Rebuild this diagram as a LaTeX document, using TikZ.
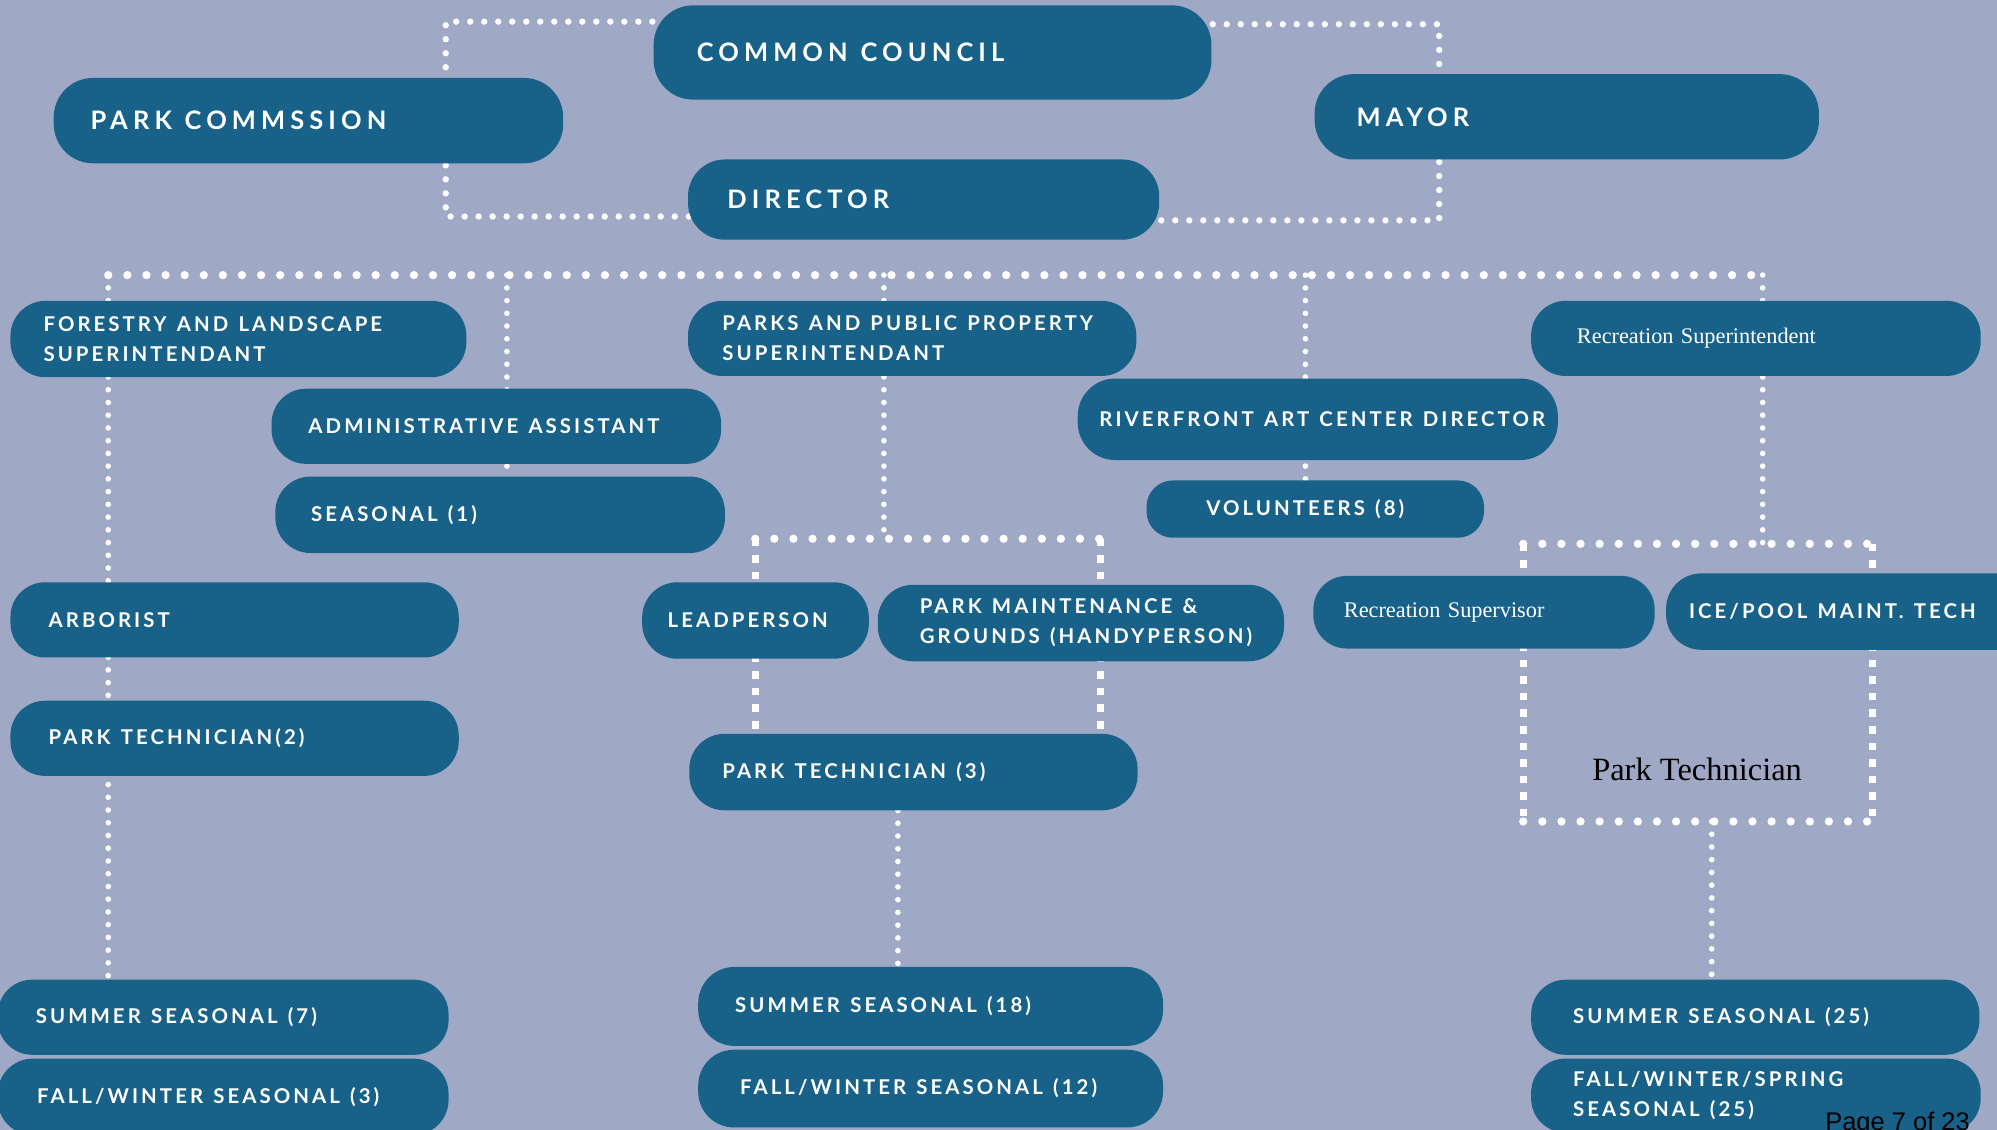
\documentclass[tikz,border=0pt]{standalone}
\usepackage{fontspec}
\newfontfamily\capbig{Lato}[LetterSpace=20]
\newfontfamily\capsm{Lato}[LetterSpace=15]
\newfontfamily\serf{Liberation Serif}
\newfontfamily\arialf{Liberation Sans}
\definecolor{bgc}{RGB}{159,169,198}
\definecolor{pillc}{RGB}{24,97,136}
\newcommand\fbig{\capbig\bfseries\fontsize{20}{24}\selectfont}
\newcommand\fsm{\capsm\bfseries\fontsize{16}{23.5}\selectfont}
\newcommand\fser{\serf\fontsize{17.5}{21}\selectfont}
\newcommand\mb[1]{\mbox{\spaceskip=0.5em\relax#1}}
\pgfdeclarelayer{backdrop}
\pgfdeclarelayer{links}
\pgfsetlayers{backdrop,links,main}
\tikzset{
  pill/.style={fill=pillc, text=white, draw=none, align=left, inner ysep=0pt, rectangle},
  dotS/.style={white, line width=4.4pt, line cap=round, dash pattern=on 0pt off 10pt},
  dotM/.style={white, line width=5pt, line cap=round, dash pattern=on 0pt off 11pt},
  dotL/.style={white, line width=6.5pt, line cap=round, dash pattern=on 0pt off 15pt},
  dashR/.style={white, line width=5.5pt, line cap=butt, dash pattern=on 6pt off 7pt},
}
% name, x1, y1, x2, y2, pad, font, text
\newcommand\pill[8]{%
  \pgfmathsetmacro\pw{#4-#2}%
  \pgfmathsetmacro\ph{#5-#3}%
  \pgfmathsetmacro\tw{#4-#2-2*#6}%
  \pgfmathsetmacro\rc{min(0.46*\ph,31)}%
  \node[pill, font=#7, minimum width=\pw pt, minimum height=\ph pt, text width=\tw pt,
        inner xsep=#6pt, rounded corners=\rc pt, anchor=north west] (#1) at (#2,#3) {#8};}
\begin{document}
\begin{tikzpicture}[x=1pt,y=-1pt]
\begin{pgfonlayer}{backdrop}
\fill[bgc] (0,0) rectangle (1568,887);
\end{pgfonlayer}
\useasboundingbox (0,0) rectangle (1568,887);

\pill{cc}{513}{4}{951}{78}{34}{\fbig}{\mb{COMMON COUNCIL}}
\pill{pc}{42}{61}{442}{128}{29}{\fbig}{\mb{PARK COMMSSION}}
\pill{mayor}{1032}{58}{1428}{125}{33}{\fbig}{\mb{MAYOR}}
\pill{dir}{540}{125}{910}{188}{31}{\fbig}{\mb{DIRECTOR}}

\pill{fls}{8}{236}{366}{296}{26}{\fsm}{\mb{FORESTRY AND LANDSCAPE}\\\mb{SUPERINTENDANT}}
\pill{pps}{540}{236}{892}{295}{27}{\fsm}{\mb{PARKS AND PUBLIC PROPERTY}\\\mb{SUPERINTENDANT}}
\pill{rsi}{1202}{236}{1555}{295}{36}{\fser}{\mbox{Recreation Superintendent}}
\pill{adm}{213}{305}{566}{364}{29}{\fsm}{\mb{ADMINISTRATIVE ASSISTANT}}
\pill{rac}{846}{297}{1223}{361}{17}{\fsm}{\mb{RIVERFRONT ART CENTER DIRECTOR}}
\pill{s1}{216}{374}{569}{434}{28}{\fsm}{\mb{SEASONAL (1)}}
\pill{vol}{900}{377}{1165}{422}{47}{\fsm}{\mb{VOLUNTEERS (8)}}

\pill{arb}{8}{457}{360}{516}{30}{\fsm}{\mb{ARBORIST}}
\pill{lead}{504}{457}{682}{517}{20}{\fsm}{\mb{LEADPERSON}}
\pill{pmg}{689}{459}{1008}{519}{33}{\fsm}{\mb{PARK MAINTENANCE \&}\\\mb{GROUNDS (HANDYPERSON)}}
\pill{rsv}{1031}{452}{1299}{509}{24}{\fser}{\mbox{Recreation Supervisor}}
\pill{ice}{1308}{450}{1598}{510}{18}{\fsm}{\mb{ICE/POOL MAINT. TECH}}

\pill{pt2}{8}{550}{360}{609}{30}{\fsm}{\mb{PARK TECHNICIAN(2)}}
\pill{pt3}{541}{576}{893}{636}{26}{\fsm}{\mb{PARK TECHNICIAN (3)}}
\node[font=\serf\fontsize{25.5}{28}\selectfont, text=black, anchor=base west, inner sep=0pt] (ptx) at (1250,613) {Park Technician};

\pill{ss7}{-2}{769}{352}{828}{30}{\fsm}{\mb{SUMMER SEASONAL (7)}}
\pill{fw3}{-2}{831}{352}{891}{31}{\fsm}{\mb{FALL/WINTER SEASONAL (3)}}
\pill{ss18}{548}{759}{913}{821}{29}{\fsm}{\mb{SUMMER SEASONAL (18)}}
\pill{fw12}{548}{824}{913}{885}{33}{\fsm}{\mb{FALL/WINTER SEASONAL (12)}}
\pill{ss25}{1202}{769}{1554}{828}{33}{\fsm}{\mb{SUMMER SEASONAL (25)}}
\pill{fws25}{1202}{831}{1555}{889}{33}{\fsm}{\mb{FALL/WINTER/SPRING}\\\mb{SEASONAL (25)}}

\node[font=\arialf\fontsize{20}{24}\selectfont, text=black, anchor=base west, inner sep=0pt] (pg) at (1433,888) {Page 7 of 23};

\begin{pgfonlayer}{links}
\coordinate (tl) at (350,17);  \coordinate (bl) at (350,170);
\coordinate (tr) at (1130,19); \coordinate (br) at (1130,173);
\draw[dotM] (cc.center |- tl) -- (tl) -- (bl) -- (dir.center |- bl);
\draw[dotM] (cc.center |- tr) -- (tr) -- (br) -- (dir.center |- br);

\coordinate (b1) at (85,216);  \coordinate (b2) at (398,216);
\coordinate (b3) at (694,216); \coordinate (b4) at (1025,216);
\coordinate (b5) at (1384,216);
\draw[dotL] (b1) -- (b5);
\draw[dotS] (b1) -- (b1 |- ss7.north);
\draw[dotS] (b2) -- (b2 |- s1.north);
\draw[dotS] (b4) -- (b4 |- vol.north);

\coordinate (pkL) at (593,423); \coordinate (pkM) at (694,423); \coordinate (pkR) at (864,423);
\draw[dotS] (b3) -- (pkM);
\draw[dotL] (pkL) -- (pkR);
\draw[dashR] (pkL) -- (pkL |- pt3.north);
\draw[dashR] (pkR) -- (pkR |- pt3.north);
\coordinate (p18) at (705,0);
\draw[dotS] (p18 |- pt3.south) -- (p18 |- ss18.north);

\coordinate (rkL) at (1196,427); \coordinate (rkM) at (1384,427); \coordinate (rkR) at (1470,427);
\coordinate (rbL) at (1196,645); \coordinate (rbM) at (1344,645); \coordinate (rbR) at (1470,645);
\draw[dotS] (b5) -- (rkM);
\draw[dotL] (rkL) -- (rkR);
\draw[dotL] (rbL) -- (rbR);
\draw[dashR] (rkL) -- (rbL);
\draw[dashR] (rkR) -- (rbR);
\draw[dotS] (rbM) -- (rbM |- ss25.north);
\end{pgfonlayer}
\end{tikzpicture}
\end{document}
